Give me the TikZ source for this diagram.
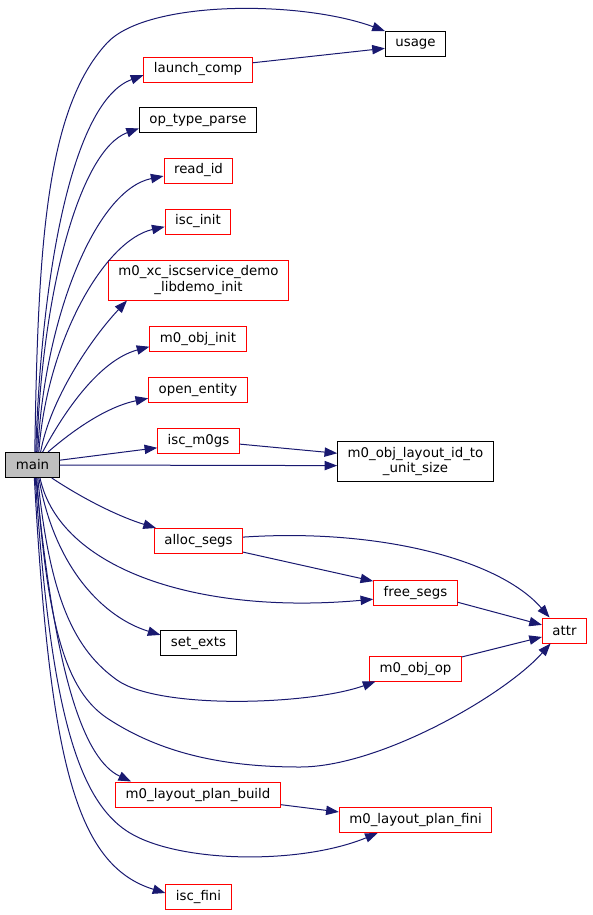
\documentclass[tikz,border=0pt]{standalone}
\usepackage{fontspec}
\setmainfont{DejaVu Sans}
\usetikzlibrary{arrows.meta}
\definecolor{edgeblue}{HTML}{191970}
\tikzset{
    box/.style={rectangle, draw=black, line width=0.75pt, fill=white, minimum height=18.75pt, inner xsep=7.5pt, inner ysep=3pt, align=center, font=\fontsize{10}{11.5}\selectfont},
    redbox/.style={box, draw=red},
    mainbox/.style={box, fill=black!25},
    twoline/.style={minimum height=30pt},
    arrow/.style={-{Triangle[length=9.5pt, width=7pt]}, draw=edgeblue, line width=0.75pt}
}

\begin{document}
\begin{tikzpicture}[x=0.75pt, y=-0.75pt]
        \useasboundingbox (0,0) rectangle (593,915);

        \node[mainbox] (main) at (32.5,465) {main};
        \node[box] (usage) at (415.5,44) {usage};
        \node[redbox] (launch) at (198,69.5) {launch\_comp};
        \node[box] (optype) at (198,120) {op\_type\_parse};
        \node[redbox] (readid) at (198.5,170.5) {read\_id};
        \node[redbox] (iscinit) at (198,221.5) {isc\_init};
        \node[redbox, twoline] (libdemo) at (198.5,280) {m0\_xc\_iscservice\_demo\\\_libdemo\_init};
        \node[redbox] (objinit) at (198,339) {m0\_obj\_init};
        \node[redbox] (openent) at (198,389.5) {open\_entity};
        \node[redbox] (m0gs) at (198.5,440.5) {isc\_m0gs};
        \node[box, twoline] (layoutid) at (415.5,461.5) {m0\_obj\_layout\_id\_to\\\_unit\_size};
        \node[redbox] (alloc) at (198.5,541) {alloc\_segs};
        \node[redbox] (freesegs) at (415.5,592.5) {free\_segs};
        \node[box] (setexts) at (198.5,643) {set\_exts};
        \node[redbox] (attr) at (564.5,630.5) {attr};
        \node[redbox] (objop) at (415.5,668.5) {m0\_obj\_op};
        \node[redbox] (planbuild) at (198,794.5) {m0\_layout\_plan\_build};
        \node[redbox] (planfini) at (415.5,820) {m0\_layout\_plan\_fini};
        \node[redbox] (iscfini) at (198.5,896.5) {isc\_fini};

        \draw[arrow] (main.80) .. controls (38,250) and (45,110) .. (107,43) .. controls (147,0) and (300,0) .. (usage.157);
        \draw[arrow] (main.76) .. controls (42,260) and (75,100) .. (launch.186);
        \draw[arrow] (main.72) .. controls (42,290) and (80,150) .. (optype.188);
        \draw[arrow] (main.68) .. controls (44,320) and (95,190) .. (readid.189);
        \draw[arrow] (main.64) .. controls (47,340) and (105,240) .. (iscinit.189);
        \draw[arrow] (main.58) .. controls (50,400) and (90,340) .. (libdemo.196);
        \draw[arrow] (main.52) .. controls (65,410) and (100,360) .. (objinit.189);
        \draw[arrow] (main.40) .. controls (85,420) and (115,405) .. (openent.190);
        \draw[arrow] (main.10) -- (m0gs.190);
        \draw[arrow] (main.east) -- (layoutid.183);
        \draw[arrow] (m0gs.-5) -- (layoutid.174);
        \draw[arrow] (launch.7) -- (usage.188);
        \draw[arrow] (main.-34) .. controls (85,500) and (120,517) .. (alloc.163);
        \draw[arrow] (alloc.5) .. controls (380,528) and (500,560) .. (attr.139);
        \draw[arrow] (alloc.-14) -- (freesegs.165);
        \draw[arrow] (main.-60) .. controls (60,570) and (200,615) .. (freesegs.189);
        \draw[arrow] (main.-64) .. controls (55,570) and (105,618) .. (setexts.168);
        \draw[arrow] (main.-68) .. controls (50,600) and (75,650) .. (117,680) .. controls (159,710) and (310,705) .. (objop.198);
        \draw[arrow] (main.-72) .. controls (48,640) and (70,695) .. (110,720) .. controls (160,752) and (220,767) .. (300,767) .. controls (380,767) and (505,695) .. (attr.223);
        \draw[arrow] (objop.14) -- (attr.196);
        \draw[arrow] (freesegs.-13) -- (attr.166);
        \draw[arrow] (main.-75) .. controls (55,680) and (85,760) .. (planbuild.169);
        \draw[arrow] (planbuild.-7) -- (planfini.174);
        \draw[arrow] (main.-78) .. controls (50,700) and (75,800) .. (130,833) .. controls (180,863) and (300,865) .. (planfini.199);
        \draw[arrow] (main.-82) .. controls (50,760) and (75,865) .. (iscfini.174);
    \end{tikzpicture}
\end{document}
